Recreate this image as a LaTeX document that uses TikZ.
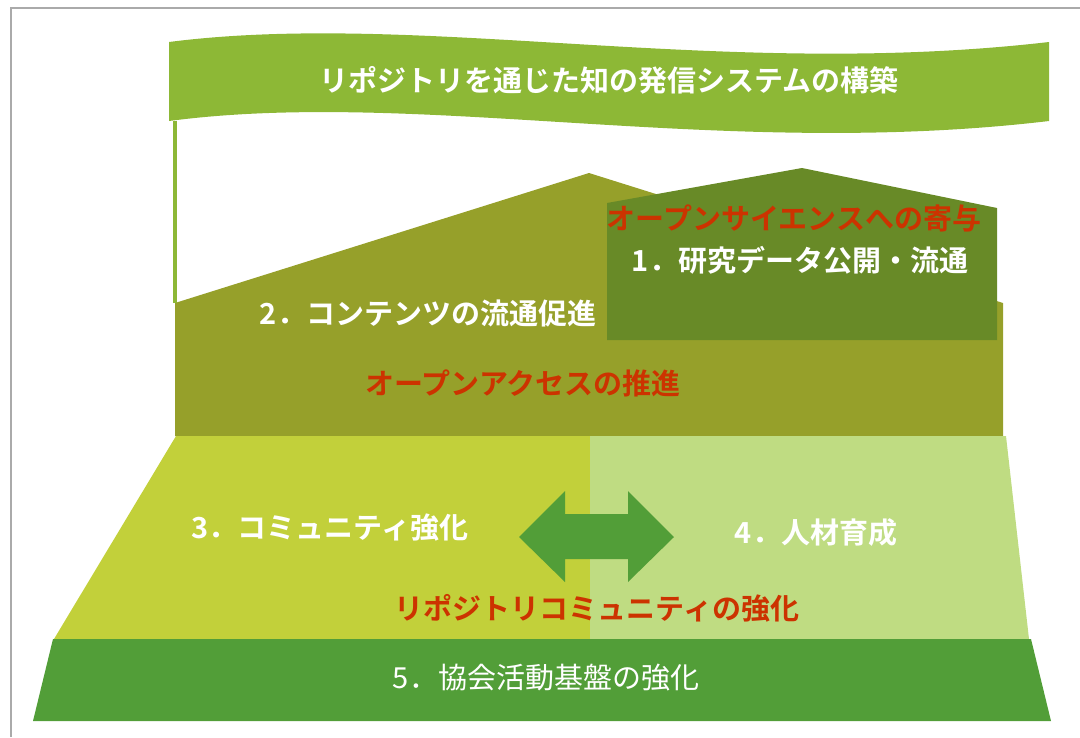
\documentclass[tikz,border=0pt]{standalone}
\usepackage{fontspec}
\setmainfont{Noto Sans CJK JP}[BoldFont={Noto Sans CJK JP Bold}]
\definecolor{flaggreen}{RGB}{141,184,54}
\definecolor{olive}{RGB}{150,160,42}
\definecolor{housegreen}{RGB}{104,138,39}
\definecolor{limegreen}{RGB}{194,208,58}
\definecolor{palegreen}{RGB}{191,220,130}
\definecolor{basegreen}{RGB}{82,158,56}
\definecolor{accentred}{RGB}{204,51,0}
\definecolor{framegray}{RGB}{170,170,170}
\begin{document}
\begin{tikzpicture}[x=1pt, y=-1pt,
    label/.style={inner sep=0pt, text=white, font=\fontsize{29}{33}\selectfont\bfseries},
    goal/.style={inner sep=0pt, text=accentred, font=\fontsize{29}{33}\selectfont\bfseries}]
            \useasboundingbox (0,0) rectangle (1080,737);
            \draw[line width=2pt, framegray] (11,737) -- (11,7.5) -- (1080,7.5);

            % mountain and house
            \fill[olive] (175,303) -- (589,173) -- (1003,303) -- (1003,436) -- (175,436) -- cycle;
            \fill[housegreen] (607,340) -- (607,203) -- (802,168) -- (997,208) -- (997,340) -- cycle;

            % lower trapezoid and base
            \fill[limegreen] (176,436) -- (590,436) -- (590,639) -- (54,639) -- cycle;
            \fill[palegreen] (590,436) -- (1006,436) -- (1029,639) -- (590,639) -- cycle;
            \fill[basegreen] (53,639) -- (1031,639) -- (1051,721) -- (33,721) -- cycle;

            % double arrow
            \fill[basegreen] (519,537) -- (565,491) -- (565,514) -- (628,514) -- (628,491) -- (674,537)
                -- (628,582) -- (628,559) -- (565,559) -- (565,582) -- cycle;

            % flag
            \draw[line width=3.5pt, flaggreen] (175,121) -- (175,303);
            \fill[flaggreen] (169,42) .. controls (420,10) and (720,80) .. (1049,42) -- (1049,121)
                .. controls (720,160) and (420,88) .. (169,121) -- cycle;

            \node[label] (title) at (609,80) {リポジトリを通じた知の発信システムの構築};
            \node[goal] (science) at (794,218) {オープンサイエンスへの寄与};
            \node[label] (data) at (800,260) {1．研究データ公開・流通};
            \node[label] (contents) at (428,313) {2．コンテンツの流通促進};
            \node[goal] (access) at (523,383) {オープンアクセスの推進};
            \node[label] (community) at (330,528) {3．コミュニティ強化};
            \node[label] (people) at (816,533) {4．人材育成};
            \node[goal] (repo) at (597,608) {リポジトリコミュニティの強化};
            \node[label, font=\fontsize{29}{33}\selectfont] (base) at (546,678) {5．協会活動基盤の強化};
\end{tikzpicture}
\end{document}
